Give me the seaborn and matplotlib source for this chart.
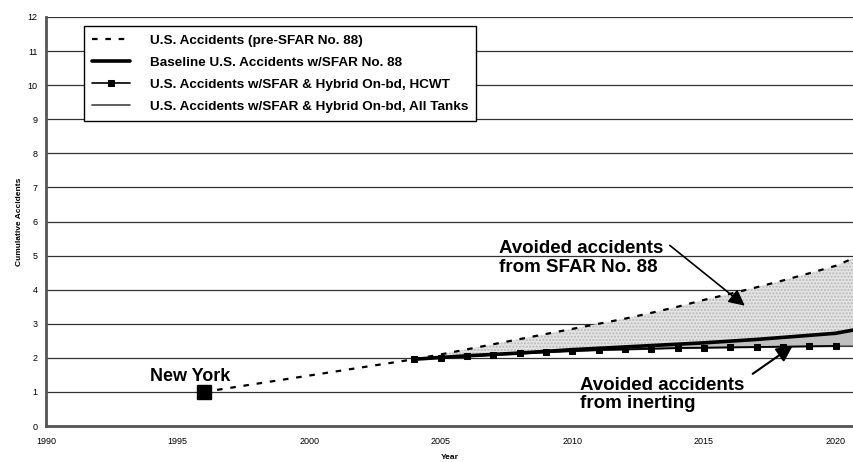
import numpy as np
import pandas as pd
import matplotlib
matplotlib.use("Agg")
import matplotlib.pyplot as plt
import seaborn as sns

sns.set_style("white")
plt.rcParams['font.family'] = ['Liberation Sans', 'DejaVu Sans']
plt.rcParams['text.color'] = 'black'
plt.rcParams['axes.labelcolor'] = 'black'

# data
pre_years = [1996, 1997, 1998, 1999, 2000, 2001, 2002, 2003, 2004, 2005, 2006, 2007, 2008,
             2009, 2010, 2011, 2012, 2013, 2014, 2015, 2016, 2017, 2018, 2019, 2020, 2020.7]
pre_sfar = [1.0, 1.12, 1.24, 1.36, 1.48, 1.6, 1.72, 1.84, 1.96, 2.1, 2.25, 2.4, 2.55,
            2.7, 2.85, 3.0, 3.15, 3.32, 3.5, 3.7, 3.88, 4.07, 4.27, 4.48, 4.7, 4.93]

sfar_years = [2004, 2005, 2006, 2007, 2008, 2009, 2010, 2011, 2012, 2013, 2014,
              2015, 2016, 2017, 2018, 2019, 2020, 2020.7]
baseline = [1.96, 2.01, 2.06, 2.1, 2.14, 2.19, 2.24, 2.28, 2.32, 2.36, 2.4,
            2.44, 2.49, 2.54, 2.6, 2.66, 2.72, 2.82]
hcwt = [1.96, 2.0, 2.05, 2.09, 2.13, 2.17, 2.2, 2.23, 2.25, 2.27, 2.29,
        2.3, 2.31, 2.32, 2.33, 2.34, 2.35, 2.35]
all_tanks = [1.96, 2.0, 2.04, 2.08, 2.12, 2.16, 2.19, 2.22, 2.24, 2.26, 2.28,
             2.29, 2.3, 2.31, 2.32, 2.33, 2.34, 2.34]

labels = ["U.S. Accidents (pre-SFAR No. 88)",
          "Baseline U.S. Accidents w/SFAR No. 88",
          "U.S. Accidents w/SFAR & Hybrid On-bd, HCWT",
          "U.S. Accidents w/SFAR & Hybrid On-bd, All Tanks"]

fig = plt.figure(figsize=(8.54, 4.62), dpi=100)
ax = fig.add_axes([46 / 854, 1 - 426 / 462, 808 / 854, 409 / 462])

# shaded regions
pre_on_sfar = np.interp(sfar_years, pre_years, pre_sfar)
ax.fill_between(sfar_years, baseline, pre_on_sfar, facecolor='#e4e4e4',
                hatch='.....', edgecolor='#b8b8b8', linewidth=0, zorder=1)
ax.fill_between(sfar_years, all_tanks, baseline, facecolor='#c0c0c0',
                edgecolor='none', linewidth=0, zorder=1)

sns.lineplot(x=pre_years, y=pre_sfar, ax=ax, color='black', lw=1.6,
             linestyle=(0, (2.5, 3.5)), label=labels[0], zorder=3)
sns.lineplot(x=sfar_years, y=baseline, ax=ax, color='black', lw=2.6,
             label=labels[1], zorder=4)
sns.lineplot(x=sfar_years[:-1], y=hcwt[:-1], ax=ax, color='black', lw=1.2,
             marker='s', markersize=4, markeredgecolor='black', label=labels[2], zorder=4)
sns.lineplot(x=sfar_years, y=all_tanks, ax=ax, color='#444444', lw=1.2,
             label=labels[3], zorder=3)

# New York point
ax.plot([1996], [1.0], marker='s', markersize=10, color='black', zorder=5)
ax.text(1993.95, 1.2, "New York", fontsize=13, fontweight='bold', va='bottom')

ax.text(2007.2, 5.45, "Avoided accidents\nfrom SFAR No. 88", fontsize=13.5,
        fontweight='bold', va='top', linespacing=1.12)
ax.annotate("", xy=(2016.55, 3.53), xytext=(2013.7, 5.3),
            arrowprops=dict(arrowstyle='-|>', color='black', lw=1.2,
                            mutation_scale=24, shrinkA=0, shrinkB=0))
ax.text(2010.3, 1.45, "Avoided accidents\nfrom inerting", fontsize=13.5,
        fontweight='bold', va='top', linespacing=1.12)
ax.annotate("", xy=(2018.37, 2.35), xytext=(2016.85, 1.53),
            arrowprops=dict(arrowstyle='-|>', color='black', lw=1.5,
                            mutation_scale=24, shrinkA=0, shrinkB=0))

ax.set_xlim(1990, 2020.7)
ax.set_ylim(0, 12)
ax.set_xticks(range(1990, 2021, 5))
ax.set_yticks(range(0, 13))
ax.yaxis.grid(True, color='#333333', lw=0.9)
ax.set_axisbelow(True)
ax.tick_params(axis='both', labelsize=6.5, direction='out', length=3,
               width=1, colors='black', labelcolor='black', pad=5)
ax.tick_params(axis='y', pad=3)
for s in ['top', 'right']:
    ax.spines[s].set_visible(False)
for s in ['left', 'bottom']:
    ax.spines[s].set_color('#555555')
    ax.spines[s].set_linewidth(2)

ax.set_xlabel("Year", fontsize=6, fontweight='bold', labelpad=6)
ax.set_ylabel("Cumulative Accidents", fontsize=6, fontweight='bold', labelpad=3)

leg = ax.legend(loc='upper left', bbox_to_anchor=(0.047, 0.978), borderaxespad=0,
                prop={'weight': 'bold', 'size': 9.7}, frameon=True, fancybox=False,
                edgecolor='black', handlelength=2.8, handletextpad=1.5,
                labelspacing=0.72, borderpad=0.6)
leg.get_frame().set_linewidth(1.0)
leg.get_frame().set_alpha(1)
for t in leg.get_texts():
    t.set_color('black')

fig.savefig("out.png", dpi=100)
